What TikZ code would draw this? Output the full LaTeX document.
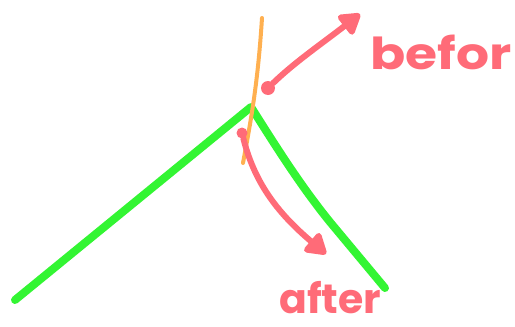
\documentclass[tikz,border=0pt]{standalone}
\usepackage{fontspec}
\newfontfamily\sketchfont{Poppins}
\usetikzlibrary{arrows.meta, positioning}
\definecolor{pen}{HTML}{FF6B78}
\definecolor{peak}{HTML}{33F533}
\definecolor{tangent}{HTML}{FFB050}

\begin{document}
\begin{tikzpicture}[
  x=1pt, y=-1pt,
  ridge/.style={draw=peak, line width=8pt, line cap=round, line join=round},
  tline/.style={draw=tangent, line width=4pt, line cap=round},
  arr/.style={draw=pen, line width=6pt, line cap=round, -{Triangle[length=23pt, width=27pt, round]}},
  dot/.style={circle, fill=pen, inner sep=0pt, minimum size=11pt},
  word/.style={text=pen, font=\sketchfont\fontsize{44}{44}\selectfont\bfseries, inner sep=0pt},
]
\useasboundingbox (0,0) rectangle (515,327);
% curve and tangent
\draw[ridge] (15,300) -- (251,107) .. controls (275,145) and (300,185) .. (330,222) -- (385,288);
\draw[tline] (262,18) .. controls (258,80) and (252,115) .. (243,163);
% before
\node[dot, minimum height=14pt, minimum width=10pt] (upper) at (268,88) {};
\coordinate (uppertip) at (360,14);
\node[word, anchor=south west, xscale=1.18] (befor) at (370,70) {befor};
\draw[arr] (upper) .. controls (295,62) and (320,45) .. (uppertip);
% after
\node[dot] (lower) at (242,133) {};
\coordinate (lowertip) at (326,254);
\node[word, anchor=south west, font=\sketchfont\fontsize{41}{41}\selectfont\bfseries] (after) at (279,314) {after};
\draw[arr] (lower) .. controls (255,185) and (280,215) .. (lowertip);
\end{tikzpicture}
\end{document}
